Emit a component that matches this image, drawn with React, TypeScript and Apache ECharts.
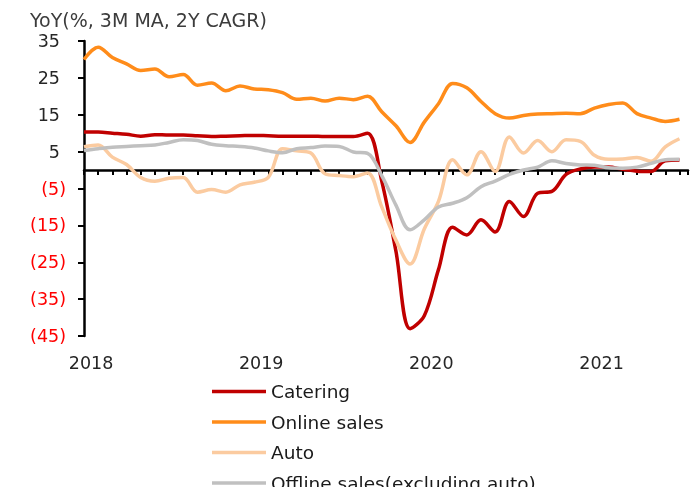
import React, { useEffect, useRef } from 'react';
import * as echarts from 'echarts';

const months = [
  '2018-01', '2018-02', '2018-03', '2018-04', '2018-05', '2018-06', '2018-07', '2018-08', '2018-09', '2018-10', '2018-11', '2018-12',
  '2019-01', '2019-02', '2019-03', '2019-04', '2019-05', '2019-06', '2019-07', '2019-08', '2019-09', '2019-10', '2019-11', '2019-12',
  '2020-01', '2020-02', '2020-03', '2020-04', '2020-05', '2020-06', '2020-07', '2020-08', '2020-09', '2020-10', '2020-11', '2020-12',
  '2021-01', '2021-02', '2021-03', '2021-04', '2021-05', '2021-06', '2021-07',
];
const yearLabels = ['2018', '2019', '2020', '2021'];
const yTickValues = [-45, -35, -25, -15, -5, 5, 15, 25, 35];

const catering = [
  10.3, 10.3, 10.0, 9.7, 9.2, 9.6, 9.5, 9.5, 9.3, 9.1, 9.2, 9.3,
  9.4, 9.3, 9.2, 9.2, 9.2, 9.1, 9.1, 9.1, 10.0, -3.0, -22.0, -43.0,
  -39.5, -27.0, -15.5, -17.6, -13.5, -16.8, -8.5, -12.6, -6.3, -5.8, -1.2, 0.3,
  0.8, 0.8, 0.2, -0.3, -0.4, 2.5, 2.7,
];
const onlineSales = [
  30.0, 33.3, 30.5, 28.8, 27.0, 27.4, 25.3, 25.9, 23.0, 23.6, 21.5, 22.8,
  22.0, 21.8, 21.0, 19.2, 19.5, 18.7, 19.5, 19.1, 20.0, 15.8, 12.0, 7.5,
  13.0, 18.0, 23.5, 22.3, 18.6, 15.3, 14.1, 14.8, 15.2, 15.3, 15.4, 15.3,
  16.8, 17.8, 18.2, 15.3, 14.1, 13.2, 13.8,
];
const auto = [
  6.3, 6.8, 3.5, 1.5, -2.0, -3.0, -2.2, -2.0, -6.0, -5.3, -6.0, -4.0,
  -3.3, -2.0, 5.8, 5.2, 4.6, -1.0, -1.5, -1.8, -0.8, -10.0, -19.0, -25.5,
  -16.0, -8.5, 2.8, -1.3, 5.0, -0.4, 9.0, 4.6, 8.0, 5.0, 8.2, 7.8,
  4.0, 2.9, 3.0, 3.4, 2.4, 6.3, 8.5,
];
const offlineSales = [
  5.3, 5.8, 6.2, 6.4, 6.6, 6.8, 7.5, 8.2, 8.0, 7.0, 6.6, 6.4,
  6.0, 5.2, 4.7, 5.8, 6.1, 6.5, 6.4, 4.9, 4.5, -1.5, -9.5, -16.2,
  -13.5, -10.0, -9.0, -7.5, -4.5, -3.0, -1.2, 0.0, 0.8, 2.5, 1.8, 1.4,
  1.3, 0.6, 0.5, 0.8, 1.8, 2.8, 2.9,
];

const seriesNames = ['Catering', 'Online sales', 'Auto', 'Offline sales(excluding auto)'];
const seriesColors = ['#C00000', '#FF8C1A', '#FBCBA0', '#C0C0C0'];
const seriesData = [catering, onlineSales, auto, offlineSales];

const FONT = 'DejaVu Sans';

export default function App() {
  const ref = useRef<HTMLDivElement>(null);

  useEffect(() => {
    if (!ref.current) return;
    const chart = echarts.init(ref.current, null, { renderer: 'svg' });
    const yearPositions = yearLabels.map((y) => months.indexOf(`${y}-01`) + 0.5);
    const xMax = months.length - 0.4;

    chart.setOption({
      animation: false,
      title: {
        text: 'YoY(%, 3M MA, 2Y CAGR)',
        left: 25,
        top: 5,
        textStyle: { fontFamily: FONT, fontSize: 19, fontWeight: 'normal', color: '#3c3c3c' },
      },
      grid: { left: 84, right: 7, top: 41, bottom: 151, containLabel: false },
      legend: {
        orient: 'vertical',
        left: 207,
        top: 377,
        height: 200,
        icon: 'rect',
        itemWidth: 54,
        itemHeight: 3.5,
        itemGap: 11.5,
        textStyle: { fontFamily: FONT, fontSize: 18.5, color: '#1a1a1a' },
        data: seriesNames,
      },
      xAxis: [
        {
          type: 'value',
          min: 0,
          max: xMax,
          interval: 1,
          position: 'bottom',
          axisLine: { show: true, onZero: true, lineStyle: { color: '#000', width: 2.5 } },
          axisTick: { show: true, length: 5, lineStyle: { color: '#000', width: 2 } },
          axisLabel: { show: false },
          splitLine: { show: false },
        },
        {
          type: 'value',
          min: 0,
          max: xMax,
          position: 'bottom',
          axisLine: { show: false, onZero: false },
          axisTick: { show: false },
          splitLine: { show: false },
          axisLabel: {
            customValues: yearPositions,
            formatter: (v: number) => yearLabels[yearPositions.indexOf(v)] ?? '',
            fontFamily: FONT,
            fontSize: 17.5,
            color: '#262626',
            margin: 18,
          },
        },
      ],
      yAxis: {
        type: 'value',
        min: -45,
        max: 35,
        axisLine: { show: true, onZero: false, lineStyle: { color: '#000', width: 2.5 } },
        axisTick: { show: true, length: 6, customValues: yTickValues, lineStyle: { color: '#000', width: 2 } },
        splitLine: { show: false },
        axisLabel: {
          customValues: yTickValues,
          margin: 18,
          formatter: (v: number) => (v < 0 ? `{n|(${-v})}` : `{p|${v}}`),
          rich: {
            n: { fontFamily: FONT, fontSize: 17.5, color: '#FF0000' },
            p: { fontFamily: FONT, fontSize: 17.5, color: '#262626', padding: [0, 6, 0, 0] },
          },
        },
      },
      series: seriesNames.map((name, k) => ({
        name,
        type: 'line',
        xAxisIndex: 0,
        data: seriesData[k].map((v, i) => [i, v]),
        showSymbol: false,
        symbol: 'none',
        smooth: 0.35,
        color: seriesColors[k],
        lineStyle: { width: 3.5, color: seriesColors[k] },
      })),
    });

    return () => chart.dispose();
  }, []);

  return <div ref={ref} style={{ position: 'fixed', left: 0, top: 0, width: 695, height: 487 }} />;
}
